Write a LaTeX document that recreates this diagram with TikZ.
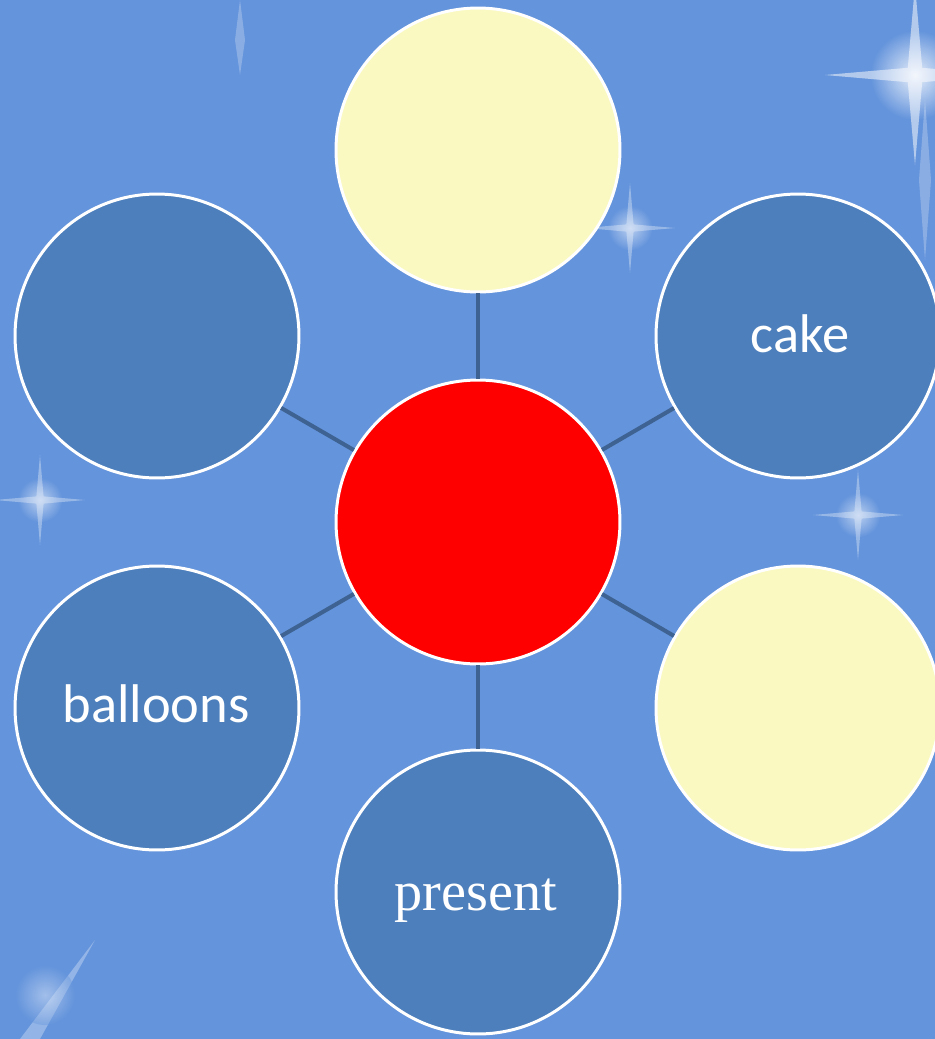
\documentclass[tikz,border=0pt]{standalone}
\usepackage{fontspec}
\newfontfamily\calib{Carlito}
\newfontfamily\timesf{Liberation Serif}
\begin{document}
\begin{tikzpicture}[x=0.02cm,y=-0.02cm,
  bubble/.style={circle, draw=white, line width=1.7pt, minimum size=5.68cm, inner sep=0pt},
  bluebub/.style={bubble, fill=bubblue},
  yellowbub/.style={bubble, fill=bubyellow},
  hub/.style={bubble, fill=hubred},
  link/.style={draw=linkcol, line width=2.3pt},
  lbl/.style={text=white, anchor=base},
  glow/.style={inner color=white, outer color=bgblue}
]
\definecolor{bgblue}{RGB}{100,148,220}
\definecolor{bubblue}{RGB}{76,127,188}
\definecolor{bubyellow}{RGB}{250,249,193}
\definecolor{hubred}{RGB}{255,0,0}
\definecolor{linkcol}{RGB}{62,98,145}
% background
\fill[bgblue] (0,0) rectangle (935,1039);
\useasboundingbox (0,0) rectangle (935,1039);
% sparkles
\newcommand{\sparkle}[4]{% x y size opacity
  \shade[glow, opacity=#4] (#1,#2) circle [radius=#3*0.5*0.02cm];
  \fill[white, opacity=#4*0.6] (#1,#2-#3) -- (#1+#3*0.08,#2-#3*0.08) -- (#1+#3,#2) -- (#1+#3*0.08,#2+#3*0.08) -- (#1,#2+#3) -- (#1-#3*0.08,#2+#3*0.08) -- (#1-#3,#2) -- (#1-#3*0.08,#2-#3*0.08) -- cycle;
}
\sparkle{915}{75}{90}{0.85}
\sparkle{630}{228}{45}{0.55}
\sparkle{40}{500}{45}{0.55}
\sparkle{858}{515}{45}{0.55}
\fill[white, opacity=0.25] (240,0) -- (245,40) -- (240,75) -- (235,40) -- cycle;
\fill[white, opacity=0.25] (925,100) -- (931,180) -- (925,260) -- (919,180) -- cycle;
\fill[white, opacity=0.3] (20,1039) -- (95,940) -- (40,1039) -- cycle;
\shade[glow, opacity=0.4] (45,995) circle [radius=0.6cm];
% bubbles
\node[hub] (c) at (478,522) {};
\node[yellowbub] (t) at (478,150) {};
\node[bluebub] (ul) at (157,336) {};
\node[bluebub] (ur) at (798,336) {};
\node[bluebub] (ll) at (157,708) {};
\node[yellowbub] (lr) at (798,708) {};
\node[bluebub] (b) at (478,892) {};
% connectors
\foreach \n in {t,ul,ur,ll,lr,b} \draw[link] (c) -- (\n);
% labels
\node[lbl, font=\calib\fontsize{31}{31}\selectfont] (cakel) at (800,352) {cake};
\node[lbl, font=\calib\fontsize{31}{31}\selectfont] (balll) at (156,722) {balloons};
\node[lbl, font=\timesf\fontsize{32}{32}\selectfont] (presl) at (476,910) {present};
\end{tikzpicture}
\end{document}
